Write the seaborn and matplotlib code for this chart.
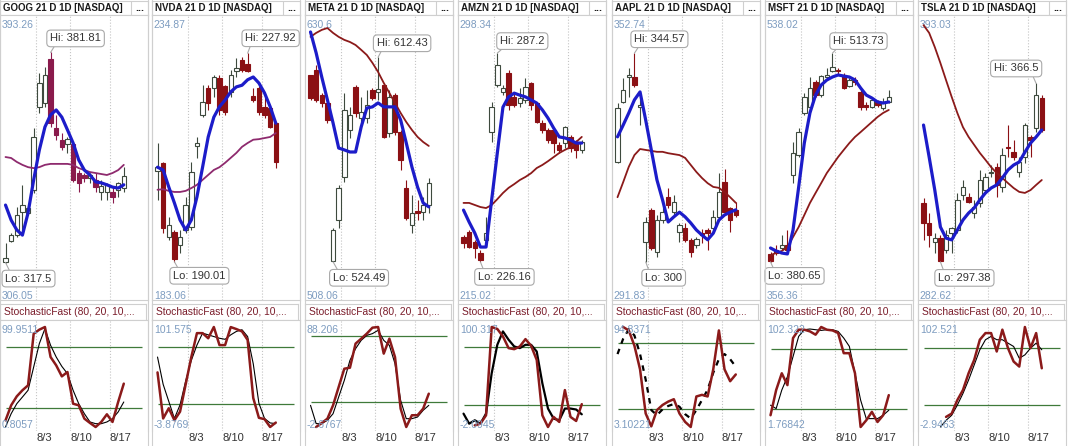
import numpy as np
import matplotlib
matplotlib.use('Agg')
import matplotlib.pyplot as plt
from matplotlib.lines import Line2D
import seaborn as sns

nan = np.nan

# ---- data ----
tickers = ['GOOG', 'NVDA', 'META', 'AMZN', 'AAPL', 'MSFT', 'TSLA']
price_lo = [306.05, 183.06, 508.06, 215.02, 291.83, 356.36, 282.62]
price_hi = [393.26, 234.87, 630.6, 298.34, 352.74, 538.02, 393.03]
stoch_lo = [0.8057, -3.8769, -2.6767, -2.0945, 3.10221, 1.76842, -2.9463]
stoch_hi = [99.9511, 101.575, 88.206, 100.317, 94.8371, 102.322, 102.521]
date_labels = ['8/3', '8/10', '8/17']

goog_o = [317.6, 324.1, 325.9, 333.0, 332.7, 339.7, 365.1, 366.3, 379.8, 358.7, 355.0, 353.8, 353.8, 344.9, 344.3, 343.4, 342.8, 339.1, 339.1, 339.1, 339.7, 340.3]
goog_c = [318.8, 325.9, 332.1, 335.1, 334.2, 355.9, 372.5, 374.9, 360.2, 356.5, 352.9, 355.3, 342.8, 341.9, 343.4, 344.3, 340.6, 341.0, 341.3, 337.6, 341.9, 344.0]
goog_h = [323.5, 326.5, 334.5, 341.3, 334.8, 358.7, 375.5, 377.3, 381.81, 362.7, 357.2, 355.9, 354.1, 345.8, 344.9, 344.9, 344.9, 342.8, 341.9, 340.6, 342.2, 346.7]
goog_l = [317.5, 323.8, 325.3, 326.9, 332.1, 338.8, 363.3, 365.1, 359.0, 355.0, 351.9, 351.0, 342.2, 339.1, 342.2, 341.9, 339.1, 336.7, 336.7, 335.7, 337.6, 339.1]
goog_fast = [335.1, 330.5, 327.5, 325.9, 332.7, 342.8, 351.9, 359.0, 362.7, 364.2, 362.0, 358.1, 354.1, 348.9, 345.8, 344.3, 342.2, 341.9, 341.3, 340.6, 340.3, 341.3]
goog_slow = [349.8, 349.5, 348.3, 347.4, 346.7, 346.4, 346.7, 347.4, 347.7, 347.7, 347.7, 347.7, 347.4, 346.4, 345.8, 345.2, 344.9, 344.6, 344.3, 344.9, 345.8, 347.4]
goog_k = [7.4, 22.3, 31.2, 37.2, 42.1, 93.3, 97.3, 99.95, 70.2, 61.9, 51.0, 55.3, 23.9, 22.3, 9.1, 4.8, 0.8, 5.8, 13.4, 5.8, 25.6, 43.8]
goog_d = [0.8, 14.0, 23.9, 30.5, 37.2, 60.3, 83.4, 98.3, 81.8, 70.2, 60.9, 53.7, 37.2, 23.9, 14.0, 5.8, 4.1, 4.1, 5.8, 9.1, 15.7, 25.6]

nvda_o = [206.5, 208.0, 194.5, 195.4, 193.1, 195.8, 196.3, 211.1, 216.7, 221.6, 221.6, 223.4, 222.0, 220.9, 224.7, 226.7, 226.0, 220.2, 221.6, 218.2, 218.0, 215.2]
nvda_c = [207.2, 196.2, 196.7, 190.5, 194.5, 200.3, 206.3, 211.6, 219.1, 218.9, 223.6, 217.6, 217.2, 224.0, 225.2, 224.9, 224.7, 219.4, 217.2, 216.7, 214.5, 208.2]
nvda_h = [211.6, 208.2, 198.2, 195.8, 195.8, 201.8, 208.2, 212.7, 222.1, 222.1, 224.0, 224.0, 222.1, 224.9, 227.1, 227.2, 227.92, 221.6, 222.0, 220.0, 218.2, 215.4]
nvda_l = [201.2, 195.2, 194.0, 190.01, 191.6, 195.2, 195.8, 208.9, 216.3, 217.6, 220.0, 216.7, 216.7, 220.0, 223.6, 224.5, 224.5, 219.1, 216.7, 216.1, 214.3, 207.1]
nvda_fast = [207.2, 206.7, 203.6, 200.7, 197.6, 195.8, 197.6, 201.8, 207.2, 212.7, 216.3, 218.2, 219.4, 220.9, 221.8, 222.1, 223.1, 223.6, 222.5, 220.7, 218.2, 215.2]
nvda_slow = [203.1, 203.2, 202.9, 202.7, 202.7, 202.9, 203.4, 204.0, 204.9, 205.8, 206.7, 207.2, 208.0, 208.9, 209.8, 210.9, 211.6, 212.2, 212.3, 212.5, 212.7, 213.4]
nvda_k = [53.7, 5.1, 15.9, 3.3, 12.3, 41.1, 69.9, 95.1, 95.1, 89.7, 101.575, 82.5, 82.5, 101.5, 99.4, 96.9, 87.9, 26.7, 5.8, 4.4, -3.8769, 0.8]
nvda_d = [69.9, 41.1, 23.1, 5.1, 19.5, 44.7, 66.3, 82.5, 95.1, 93.3, 91.5, 89.7, 88.6, 93.3, 96.9, 98.7, 91.5, 62.7, 21.3, 5.1, 0.4, -0.3]

meta_o = [604.8, 607.0, 596.2, 592.8, 524.8, 542.5, 560.9, 581.2, 599.7, 586.3, 586.3, 598.4, 597.5, 600.5, 579.9, 596.2, 580.3, 556.2, 540.3, 546.3, 545.9, 548.9]
meta_c = [594.9, 594.1, 592.8, 585.5, 538.2, 556.2, 589.8, 587.6, 588.5, 588.9, 591.9, 594.9, 598.8, 578.2, 595.4, 580.3, 568.3, 543.3, 545.5, 545.5, 548.9, 558.4]
meta_h = [605.0, 609.1, 597.1, 593.2, 539.0, 557.5, 597.1, 591.1, 600.5, 595.4, 598.4, 599.2, 612.43, 601.4, 598.4, 597.1, 581.2, 559.7, 553.2, 551.1, 552.4, 560.5]
meta_l = [594.1, 593.2, 591.1, 584.2, 524.49, 539.0, 558.8, 577.7, 586.8, 582.5, 584.2, 594.1, 594.1, 577.7, 578.2, 579.0, 564.0, 542.5, 536.9, 542.5, 542.5, 545.5]
meta_fast = [623.3, 614.3, 603.9, 594.1, 584.2, 573.4, 572.6, 571.7, 571.7, 582.5, 590.6, 591.1, 592.8, 591.1, 591.1, 591.1, 585.5, 575.6, 565.3, 556.7, 549.8, 548.1]
meta_slow = [621.2, 622.9, 624.2, 625.0, 622.9, 621.2, 619.9, 619.0, 617.7, 615.6, 613.4, 610.0, 606.1, 601.4, 597.1, 592.8, 588.5, 584.6, 581.2, 578.2, 576.0, 574.3]
meta_k = [nan, -2.68, 0.97, 4.9, 17.0, 33.7, 50.3, 51.2, 73.1, 77.6, 82.2, 87.6, 88.206, 64.0, 77.6, 60.9, 14.0, -2.6767, 8.0, 8.0, 14.0, 27.6]
meta_d = [17.0, 0.4, 0.4, 3.4, 9.4, 24.6, 39.7, 57.9, 68.5, 76.1, 80.6, 82.2, 85.2, 76.1, 71.5, 54.9, 21.6, 4.9, 4.9, 6.4, 12.5, 17.0]

amzn_o = [233.4, 234.9, 232.0, 228.8, 232.6, 264.1, 277.9, 275.8, 281.4, 274.4, 272.6, 273.5, 278.4, 272.6, 266.8, 264.7, 264.7, 260.3, 260.9, 262.7, 261.2, 258.9]
amzn_c = [231.7, 230.5, 230.2, 226.6, 234.6, 271.4, 283.7, 277.0, 272.0, 272.0, 274.1, 277.3, 272.0, 267.1, 264.7, 261.8, 260.9, 258.9, 265.6, 259.4, 258.9, 261.2]
amzn_h = [234.0, 235.5, 232.6, 229.6, 239.3, 272.9, 287.2, 277.9, 282.3, 275.5, 277.0, 279.9, 278.7, 272.9, 267.6, 265.3, 265.3, 261.2, 265.9, 263.2, 261.8, 261.8]
amzn_l = [230.2, 230.2, 227.3, 226.16, 231.1, 261.2, 277.3, 274.9, 270.6, 271.4, 271.4, 272.6, 270.6, 266.8, 263.8, 260.9, 258.0, 258.0, 259.4, 258.3, 256.5, 258.0]
amzn_fast = [241.3, 237.8, 234.6, 230.5, 230.5, 244.3, 258.0, 271.4, 274.4, 275.5, 274.9, 274.4, 273.5, 272.6, 270.6, 268.2, 265.3, 262.7, 262.4, 261.8, 260.9, 260.9]
amzn_slow = [243.4, 243.4, 242.8, 242.2, 241.9, 242.8, 244.5, 246.3, 247.8, 248.9, 250.1, 251.0, 252.1, 253.6, 254.5, 255.6, 256.8, 258.0, 258.9, 259.7, 261.2, 262.7]
amzn_k = [nan, nan, -0.4, 1.3, 9.9, 100.317, 98.3, 90.7, 78.7, 77.6, 80.4, 87.9, 81.1, 66.6, 9.9, -2.0945, 8.2, 3.1, 35.7, 8.2, 4.1, 21.3]
amzn_d = [11.6, 1.3, 4.8, 1.3, 11.6, 52.9, 82.1, 95.8, 87.3, 80.4, 78.7, 82.1, 82.1, 75.2, 42.6, 16.8, 6.5, 4.8, 16.8, 16.8, 15.8, 10.9]

aapl_o = [321.3, 334.1, 339.5, 339.5, 333.1, 304.2, 311.1, 302.1, 308.9, 313.8, 310.6, 306.4, 307.2, 304.7, 303.6, 306.1, 306.8, 307.2, 309.6, 317.0, 311.5, 311.1]
aapl_c = [332.9, 336.7, 339.9, 337.8, 333.3, 308.5, 302.9, 308.9, 310.6, 312.1, 312.8, 307.9, 304.7, 302.1, 304.9, 305.7, 306.1, 309.6, 314.9, 310.6, 308.9, 310.0]
aapl_h = [333.9, 339.3, 341.4, 344.57, 336.1, 309.6, 311.5, 310.0, 313.2, 315.8, 314.3, 308.3, 308.3, 305.1, 305.3, 307.0, 307.2, 311.1, 319.0, 319.8, 311.7, 312.8]
aapl_l = [321.1, 333.9, 335.2, 337.3, 329.2, 300.0, 302.5, 301.0, 308.3, 311.5, 310.0, 304.2, 304.2, 301.0, 302.9, 304.0, 302.5, 306.8, 308.9, 310.0, 306.4, 309.6]
aapl_fast = [326.7, 329.2, 331.8, 334.6, 336.3, 330.3, 323.9, 317.5, 313.2, 308.5, 309.6, 310.6, 309.6, 308.3, 306.8, 305.7, 304.7, 306.1, 308.9, 310.0, 310.6, 311.1]
aapl_slow = [313.8, 317.0, 320.3, 322.8, 324.1, 323.9, 323.7, 323.5, 323.5, 323.2, 323.0, 322.8, 322.2, 320.7, 319.2, 317.9, 316.8, 316.0, 315.8, 314.9, 313.8, 312.6]
aapl_k = [nan, 94.8371, 91.7, 77.7, 56.0, 15.5, 3.7, 18.6, 23.3, 26.4, 28.6, 15.5, 7.8, 3.10221, 31.1, 32.6, 31.1, 56.0, 91.7, 56.0, 45.1, 51.3]
aapl_d = [70.0, 84.0, 92.7, 87.1, 70.0, 46.6, 18.6, 14.0, 19.3, 22.4, 24.2, 21.7, 14.9, 10.9, 18.6, 27.9, 37.3, 52.9, 65.3, 70.0, 65.3, 58.4]

msft_o = [385.7, 388.2, 389.5, 391.4, 436.0, 448.8, 475.6, 479.4, 495.3, 487.0, 498.5, 502.3, 503.0, 499.8, 492.8, 496.6, 488.9, 480.7, 479.4, 482.6, 478.7, 482.6]
msft_c = [381.5, 386.3, 391.4, 388.2, 450.1, 463.4, 485.8, 491.5, 487.0, 499.1, 499.8, 504.9, 502.3, 491.5, 496.6, 495.3, 479.4, 479.4, 483.8, 480.7, 482.6, 485.8]
msft_h = [387.0, 391.4, 397.8, 401.0, 457.1, 466.0, 488.3, 498.5, 496.6, 499.8, 504.2, 513.73, 504.2, 501.0, 497.9, 498.5, 490.8, 482.6, 485.1, 483.8, 485.1, 490.2]
msft_l = [380.65, 385.0, 388.2, 387.0, 430.9, 447.5, 474.3, 477.5, 485.8, 485.8, 496.6, 501.7, 500.4, 490.8, 492.1, 493.4, 477.5, 477.5, 478.7, 479.4, 477.5, 481.9]
msft_fast = [389.5, 387.6, 386.3, 385.7, 401.0, 428.4, 456.4, 475.6, 487.0, 493.4, 496.6, 498.5, 499.8, 499.1, 498.5, 496.6, 491.5, 487.0, 485.1, 482.6, 481.9, 482.6]
msft_slow = [385.0, 386.3, 387.6, 390.1, 396.5, 402.9, 410.5, 418.2, 424.6, 430.9, 437.3, 442.4, 447.5, 452.0, 456.4, 460.3, 463.4, 466.6, 469.8, 473.0, 475.6, 477.5]
msft_k = [13.6, 38.9, 55.8, 43.9, 91.2, 99.6, 99.6, 97.9, 94.6, 102.322, 99.6, 98.9, 96.3, 76.0, 76.0, 55.8, 1.76842, 8.5, 17.0, 6.8, 13.6, 33.8]
msft_d = [23.7, 20.3, 38.9, 52.4, 72.6, 92.9, 99.6, 100.3, 99.6, 98.9, 99.6, 99.6, 97.9, 91.2, 82.8, 55.8, 28.8, 10.2, 10.2, 10.2, 13.6, 18.6]

tsla_o = [320.2, 312.5, 305.1, 306.6, 302.0, 308.6, 309.7, 323.3, 322.5, 316.3, 320.2, 325.2, 331.8, 334.1, 326.4, 341.9, 339.9, 332.2, 338.0, 345.8, 349.3, 360.9]
tsla_c = [312.5, 307.8, 306.6, 297.8, 307.8, 310.5, 321.4, 326.4, 320.6, 318.6, 329.1, 330.3, 332.2, 327.2, 338.8, 341.5, 338.0, 336.1, 350.4, 344.6, 362.0, 348.5]
tsla_h = [322.1, 316.3, 308.6, 307.8, 309.7, 310.9, 324.1, 329.1, 324.1, 321.4, 333.0, 331.8, 334.9, 335.7, 341.5, 350.4, 344.6, 338.0, 351.2, 346.5, 366.5, 362.0]
tsla_l = [305.9, 303.2, 300.8, 297.38, 300.8, 300.8, 308.6, 321.4, 320.2, 314.4, 318.6, 324.1, 330.3, 322.5, 324.5, 338.0, 336.9, 330.3, 335.7, 338.0, 347.7, 347.7]
tsla_fast = [350.4, 338.0, 325.2, 310.9, 306.6, 305.9, 309.7, 313.6, 316.3, 318.3, 321.4, 324.1, 326.0, 327.2, 329.9, 333.0, 334.9, 336.1, 339.9, 343.4, 345.8, 348.5]
tsla_slow = [389.1, 386.1, 380.6, 374.4, 367.8, 361.3, 355.1, 349.6, 345.8, 342.7, 339.6, 336.9, 334.1, 331.8, 329.9, 327.9, 326.0, 324.5, 324.1, 325.2, 327.2, 329.1]
tsla_k = [nan, nan, nan, nan, 7.7, 11.2, 25.4, 36.0, 53.7, 67.8, 89.1, 96.1, 96.1, 76.7, 99.7, 80.2, 66.1, 60.8, 102.521, 80.2, 96.1, 59.0]
tsla_d = [nan, nan, nan, -2.9463, 4.1, 9.4, 20.1, 32.4, 46.6, 62.5, 78.5, 89.1, 92.6, 89.1, 89.1, 85.5, 82.0, 69.6, 73.1, 80.2, 85.5, 78.5]

ohlc = [
    (goog_o, goog_h, goog_l, goog_c), (nvda_o, nvda_h, nvda_l, nvda_c),
    (meta_o, meta_h, meta_l, meta_c), (amzn_o, amzn_h, amzn_l, amzn_c),
    (aapl_o, aapl_h, aapl_l, aapl_c), (msft_o, msft_h, msft_l, msft_c),
    (tsla_o, tsla_h, tsla_l, tsla_c),
]
fast_ma = [goog_fast, nvda_fast, meta_fast, amzn_fast, aapl_fast, msft_fast, tsla_fast]
slow_ma = [goog_slow, nvda_slow, meta_slow, amzn_slow, aapl_slow, msft_slow, tsla_slow]
stoch_k = [goog_k, nvda_k, meta_k, amzn_k, aapl_k, msft_k, tsla_k]
stoch_d = [goog_d, nvda_d, meta_d, amzn_d, aapl_d, msft_d, tsla_d]

# ---- layout / style ----
W, H = 1074, 446
panel_left = [0, 152, 305, 458, 612, 765, 918]
panel_w = 148
grid_x = [5.5, 11.5, 18.5]
xlim = (-0.98, 25.3)

down_col = ['#8a1a4c', '#8b1014', '#8b1014', '#8b1014', '#8b1014', '#8b1014', '#8b1014']
slow_col = ['#8e2a6e', '#8e2a6e', '#8b1a1a', '#8b1a1a', '#8b1a1a', '#8b1a1a', '#8b1a1a']
d_style = ['-', '-', '-', '-', (0, (2.5, 2.5)), '-', '-']
d_width = [0.8, 0.8, 0.8, 1.6, 1.6, 0.8, 0.8]
hi_off = [(25, 14), (23, 15), (24, 14), (25, 12), (25, 14), (26, 12), (-20, 15)]
lo_off = [(23, -16), (25, -14), (26, -16), (24, -15), (18, -16), (24, -14), (24, -16)]

up_edge = '#3e4a3e'
blue = '#1c1cc9'
axis_lbl = '#7d9cc0'
frame = '#cfcfcf'

sns.set_theme(style='white')
plt.rcParams['font.family'] = ['Liberation Sans', 'DejaVu Sans']


def rect(x0, y0, w, h):
    return [x0 / W, 1 - (y0 + h) / H, w / W, h / H]


def style_frame(ax, bottom=True):
    for s in ax.spines.values():
        s.set_color(frame)
        s.set_linewidth(0.8)
    ax.spines['bottom'].set_visible(bottom)


fig = plt.figure(figsize=(W / 100, H / 100), dpi=100)
fig.patch.set_facecolor('white')

for i, name in enumerate(tickers):
    L = panel_left[i]
    o, h, l, c = (np.array(a, dtype=float) for a in ohlc[i])
    idx = np.arange(len(o))

    # full-height panel edges
    for xe in (L, L + panel_w):
        fig.add_artist(Line2D([xe / W, xe / W], [0, 1], color=frame, lw=0.8,
                              transform=fig.transFigure))

    # title bar
    hax = fig.add_axes(rect(L, 1, panel_w, 14))
    hax.set_xlim(0, panel_w)
    hax.set_ylim(0, 14)
    hax.set_xticks([])
    hax.set_yticks([])
    style_frame(hax)
    hax.axvline(131, color=frame, lw=0.8)
    hax.text(3, 7, f'{name} 21 D 1D [NASDAQ]', fontsize=7, fontweight='bold',
             color='#1a1a1a', va='center', ha='left')
    hax.text(139.5, 7, '...', fontsize=7.5, fontweight='bold', color='#1a1a1a',
             va='center', ha='center')

    # price panel
    ax = fig.add_axes(rect(L, 15, panel_w, 285))
    style_frame(ax)
    rng = price_hi[i] - price_lo[i]
    up = c >= o
    body_lo = np.minimum(o, c)
    body_h = np.maximum(np.abs(c - o), rng * 0.005)
    ax.vlines(idx[up], l[up], h[up], color=up_edge, lw=0.8, zorder=2)
    ax.vlines(idx[~up], l[~up], h[~up], color=down_col[i], lw=0.8, zorder=2)
    ax.bar(idx[up], body_h[up], bottom=body_lo[up], width=0.78, color='white',
           edgecolor=up_edge, linewidth=0.8, zorder=3)
    ax.bar(idx[~up], body_h[~up], bottom=body_lo[~up], width=0.78,
           color=down_col[i], edgecolor=down_col[i], linewidth=0.8, zorder=3)
    sns.lineplot(x=idx, y=slow_ma[i], ax=ax, color=slow_col[i], lw=1.3,
                 zorder=4, legend=False)
    sns.lineplot(x=idx, y=fast_ma[i], ax=ax, color=blue, lw=2.3, zorder=5,
                 legend=False)
    ax.set_xlim(*xlim)
    ax.set_ylim(price_lo[i], price_hi[i])
    ax.set_xticks(grid_x)
    ax.set_yticks([])
    ax.tick_params(axis='x', length=0, labelbottom=False)
    ax.grid(axis='x', color='#c4c4c4', ls=':', lw=0.8)
    ax.set_xlabel('')
    ax.set_ylabel('')
    ax.text(0.012, 1 - 10 / 285, f'{price_hi[i]:g}', transform=ax.transAxes,
            fontsize=7.5, color=axis_lbl, va='center', ha='left')
    ax.text(0.012, 4 / 285, f'{price_lo[i]:g}', transform=ax.transAxes,
            fontsize=7.5, color=axis_lbl, va='center', ha='left')

    box = dict(boxstyle='round,pad=0.3,rounding_size=0.35', fc='white',
               ec='#a9a9a9', lw=0.8)
    ih = int(np.argmax(h))
    il = int(np.argmin(l))
    hx = 0.85 if hi_off[i][0] < 0 else 0.12
    ax.annotate(f'Hi: {h[ih]:g}', xy=(ih, h[ih]), xytext=hi_off[i],
                textcoords='offset pixels', ha='center', va='center',
                fontsize=8, color='#333333', bbox=box, zorder=10,
                arrowprops=dict(arrowstyle='-', color='#a9a9a9', lw=0.8,
                                shrinkA=0, shrinkB=0, relpos=(hx, 0)))
    ax.annotate(f'Lo: {l[il]:g}', xy=(il, l[il]), xytext=lo_off[i],
                textcoords='offset pixels', ha='center', va='center',
                fontsize=8, color='#333333', bbox=box, zorder=10,
                arrowprops=dict(arrowstyle='-', color='#a9a9a9', lw=0.8,
                                shrinkA=0, shrinkB=0, relpos=(0.12, 1)))

    # stochastic title bar
    sh = fig.add_axes(rect(L, 304, panel_w - 2, 16))
    sh.set_xticks([])
    sh.set_yticks([])
    style_frame(sh)
    sh.text(0.025, 0.5, 'StochasticFast (80, 20, 10,...', transform=sh.transAxes,
            fontsize=7.4, color='#7a1c2a', va='center', ha='left')

    # stochastic panel
    sx = fig.add_axes(rect(L, 320, panel_w, 111))
    style_frame(sx, bottom=False)
    srng = stoch_hi[i] - stoch_lo[i]
    sx.hlines([80, 20], 0, 24.2, color='#3f7a3a', lw=0.9, zorder=2)
    sns.lineplot(x=idx, y=stoch_d[i], ax=sx, color='black', lw=d_width[i],
                 linestyle=d_style[i], zorder=3, legend=False)
    sns.lineplot(x=idx, y=stoch_k[i], ax=sx, color='#8b1a1a', lw=1.8,
                 zorder=4, legend=False)
    sx.set_xlim(*xlim)
    sx.set_ylim(stoch_lo[i] - 0.04 * srng, stoch_hi[i] + 0.07 * srng)
    sx.set_yticks([])
    sx.set_xticks(grid_x, labels=date_labels)
    for t in sx.get_xticklabels():
        t.set_ha('left')
    sx.tick_params(axis='x', length=0, pad=1.5, labelsize=8, labelcolor='#333333')
    sx.grid(axis='x', color='#c4c4c4', ls=':', lw=0.8)
    sx.set_xlabel('')
    sx.set_ylabel('')
    ytr = sx.get_yaxis_transform()
    sx.text(0.012, stoch_hi[i] - 0.03 * srng, f'{stoch_hi[i]:g}', transform=ytr,
            fontsize=7.5, color=axis_lbl, va='center', ha='left', zorder=6)
    sx.text(0.012, stoch_lo[i] + 0.02 * srng, f'{stoch_lo[i]:g}', transform=ytr,
            fontsize=7.5, color=axis_lbl, va='center', ha='left', zorder=6)

fig.savefig('out.png', dpi=100, facecolor='white')
